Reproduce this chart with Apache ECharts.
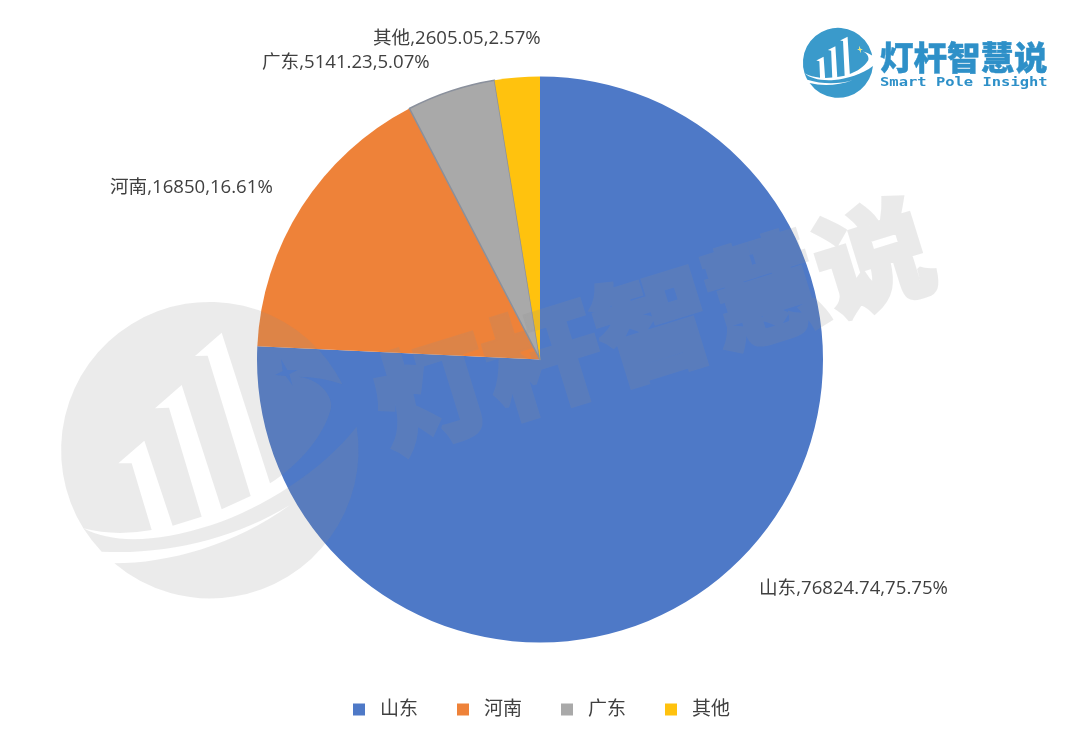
<!DOCTYPE html>
<html>
<head>
<meta charset="utf-8">
<style>html,body{margin:0;padding:0;background:#fff}#c{width:1080px;height:732px}</style>
<script src="https://cdn.jsdelivr.net/npm/echarts@6/dist/echarts.min.js"></script>
</head>
<body>
<div id="c"></div>
<script>
const categories = ['山东', '河南', '广东', '其他'];
const values = [76824.74, 16850, 5141.23, 2605.05];
const colors = ['#4E79C7', '#EE8239', '#A9A9A9', '#FFC20E'];
const labelAnchors = [[759, 589], [110, 188], [262, 63], [373, 39]];
const brandName = '灯杆智慧说';
const brandEnglish = 'Smart Pole Insight';

const FONT = '"Open Sans","Noto Sans CJK SC",sans-serif';
const chart = echarts.init(document.getElementById('c'), null, { renderer: 'canvas' });

chart.setOption({
  animation: false,
  backgroundColor: '#fff',
  legend: {
    data: categories,
    left: 348,
    top: 695,
    icon: 'rect',
    itemWidth: 12,
    itemHeight: 12,
    itemGap: 39,
    itemStyle: { borderWidth: 0 },
    textStyle: { fontFamily: FONT, fontSize: 19, color: '#404040', padding: [0, 0, 0, 10] }
  },
  series: [{
    type: 'pie',
    center: [540, 359.5],
    radius: [0, 283],
    startAngle: 90,
    clockwise: true,
    avoidLabelOverlap: false,
    minShowLabelAngle: 0,
    data: categories.map((name, i) => ({
      name,
      value: values[i],
      itemStyle: {
        color: colors[i],
        borderColor: i === 2 ? '#8A909C' : colors[i],
        borderWidth: i === 2 ? 1.5 : 0
      }
    })),
    label: {
      show: true,
      position: 'outside',
      formatter: '{b},{c},{d}%',
      fontFamily: FONT,
      fontSize: 18.6,
      color: '#404040'
    },
    labelLine: { show: false },
    labelLayout: params => ({
      x: labelAnchors[params.dataIndex][0],
      y: labelAnchors[params.dataIndex][1],
      align: 'left',
      verticalAlign: 'middle'
    })
  }],
  graphic: {
    elements: [
      {
        type: 'text', x: 653, y: 325, rotation: 0.3, scaleX: 1.02, zlevel: 5, silent: true,
        style: {
          text: brandName, align: 'center', verticalAlign: 'middle',
          font: '900 113px "Noto Sans CJK SC"', fill: '#8E8E8E',
          stroke: '#8E8E8E', lineWidth: 4, lineJoin: 'miter'
        }
      },
      {
        type: 'text', x: 880, y: 57, z: 100, silent: true,
        style: {
          text: brandName, align: 'left', verticalAlign: 'middle',
          font: '900 33.5px "Noto Sans CJK SC"', fill: '#2E90C8',
          stroke: '#2E90C8', lineWidth: 0.4
        }
      },
      {
        type: 'text', x: 880, y: 83, scaleX: 1.19, z: 100, silent: true,
        style: {
          text: brandEnglish, align: 'left', verticalAlign: 'middle',
          font: 'bold 13px "DejaVu Sans Mono"', fill: '#2E90C8'
        }
      }
    ]
  }
});

// The translucent watermark wordmark sits on its own layer so fill and outline share one alpha.
chart.getZr().painter.getLayer(5).dom.style.opacity = 0.177;

// Brand emblem (decoration): a disc with bars and a swoosh cut out of it.
const emblem =
  'M85 700 A445 445 0 1 1 862 268 Q800 245 730 245 C810 255 840 320 825 350 C800 430 730 510 645 565 ' +
  'L500 113 L420 183 L458 182 L587 603 L500 643 L380 270 L300 340 L342 338 L440 665 L353 692 ' +
  'L268 437 L190 505 L230 505 L290 705 Q180 725 85 700 Z ' +
  'M678 192 L683 228 L660 240 L692 243 L713 272 L703 238 L728 225 L697 225 Z ' +
  'M905 395 A445 445 0 0 1 178 805 C340 805 540 750 705 630 C540 730 340 780 140 770 ' +
  'A445 445 0 0 1 85 700 C170 745 300 745 470 690 C620 640 800 530 905 395 Z';
const star = 'M678 192 L697 225 L728 225 L703 238 L713 272 L692 243 L660 240 L683 228 Z';

const zr = chart.getZr();
zr.add(echarts.graphic.makePath(emblem, {
  x: 55, y: 295, scaleX: 1 / 3, scaleY: 1 / 3, z: 100, silent: true,
  style: { fill: 'rgba(142,142,142,0.177)' }
}));
const logoScale = 35 / 445;
const logoTransform = {
  x: 838 - 465, y: 63 - 468, originX: 465, originY: 468,
  scaleX: logoScale, scaleY: logoScale, rotation: -0.25, z: 100, silent: true
};
zr.add(echarts.graphic.makePath(emblem, Object.assign({}, logoTransform, { style: { fill: '#3A9ACB' } })));
zr.add(echarts.graphic.makePath(star, Object.assign({}, logoTransform, { style: { fill: '#F3E75F' } })));
</script>
</body>
</html>
